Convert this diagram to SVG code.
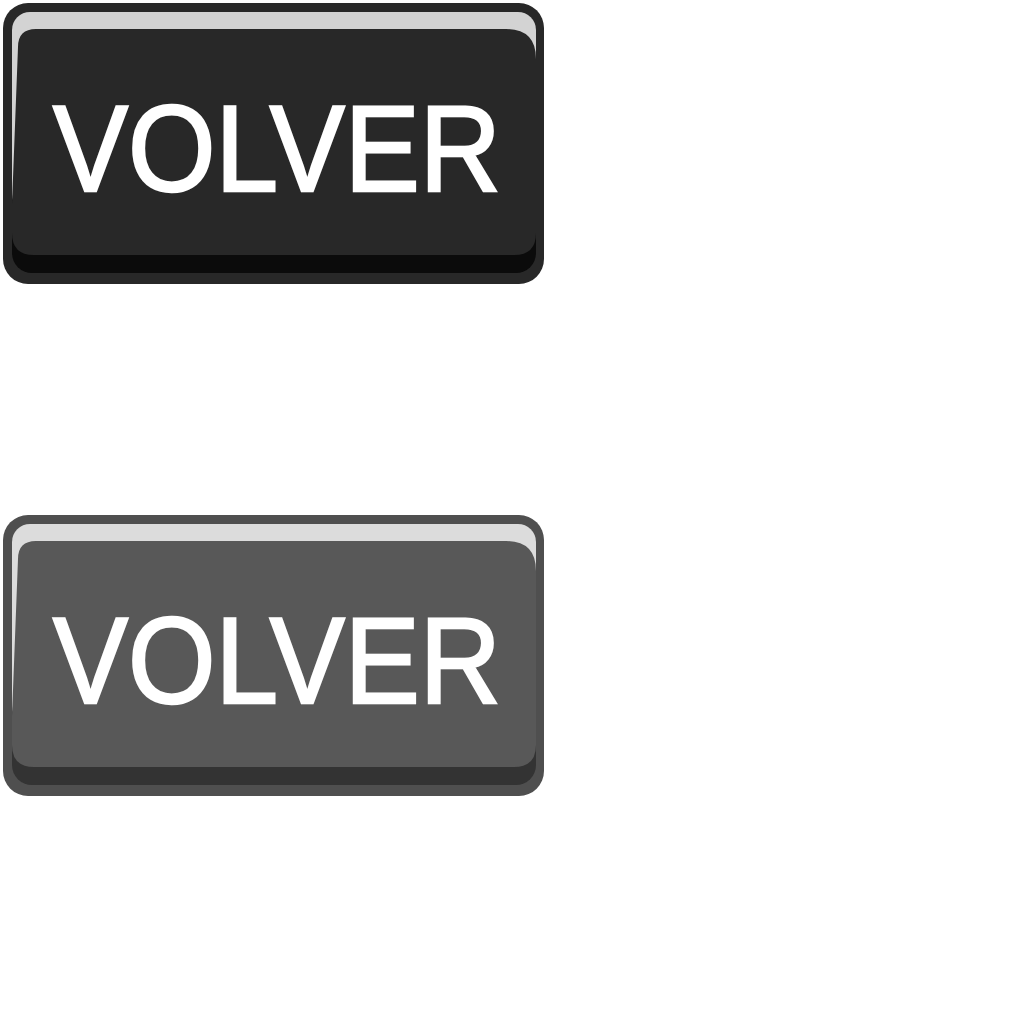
<svg xmlns="http://www.w3.org/2000/svg" width="1024" height="1024" viewBox="0 0 1024 1024">
<style>
.lbl{font-family:"Liberation Sans",Arial,sans-serif;font-size:122px;fill:#ffffff;stroke:#ffffff;stroke-width:2.5px;stroke-linejoin:miter}
</style>
<defs>
<path id="face" d="M36,29 H506 Q536,29 536,59 V233 Q536,255 514,255 H34 Q12,255 12,233 V204 L18,47 Q18,29 36,29 Z"/>
</defs>
<rect width="1024" height="1024" fill="#ffffff"/>
<g id="btn1">
<rect x="3" y="3" width="541" height="281" rx="25" fill="#282828"/>
<rect x="12" y="150" width="524" height="123" rx="20" fill="#0b0b0b"/>
<rect x="12" y="12" width="524" height="200" rx="18" fill="#d3d3d3"/>
<use href="#face" fill="#282828"/>
<text class="lbl" x="53" y="191" textLength="448" lengthAdjust="spacingAndGlyphs">VOLVER</text>
</g>
<g id="btn2" transform="translate(0,512)">
<rect x="3" y="3" width="541" height="281" rx="25" fill="#4f4f4f"/>
<rect x="12" y="150" width="524" height="123" rx="20" fill="#333333"/>
<rect x="12" y="12" width="524" height="200" rx="18" fill="#dcdcdc"/>
<use href="#face" fill="#585858"/>
<text class="lbl" x="53" y="191" textLength="448" lengthAdjust="spacingAndGlyphs">VOLVER</text>
</g>
<g id="connectors"/>
</svg>
